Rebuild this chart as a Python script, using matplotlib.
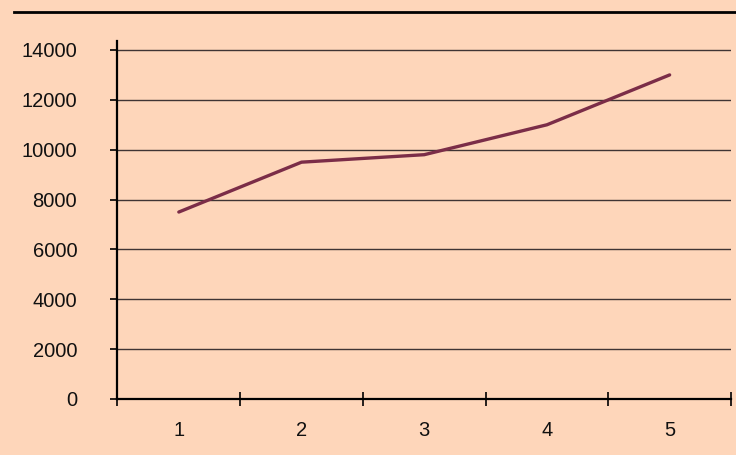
import matplotlib
matplotlib.use('Agg')
import matplotlib.pyplot as plt
from matplotlib.lines import Line2D

# data
categories = [1, 2, 3, 4, 5]
values = [7500, 9500, 9800, 11000, 13000]
yticks = [0, 2000, 4000, 6000, 8000, 10000, 12000, 14000]

bg = '#FED6BA'
line_col = '#7B2D48'

plt.rcParams['font.family'] = ['Liberation Sans', 'DejaVu Sans']

fig = plt.figure(figsize=(7.36, 4.55), dpi=100, facecolor=bg)
ax = fig.add_axes([0.1596, 0.1231, 0.9932 - 0.1596, 0.9099 - 0.1231])
ax.set_facecolor(bg)

ax.plot(categories, values, color=line_col, linewidth=2.4, solid_capstyle='round', zorder=3)

ax.set_xlim(0.5, 5.5)
ax.set_ylim(0, 14361)

# grid lines
ax.set_yticks(yticks)
ax.yaxis.grid(True, color='#3f3434', linewidth=1.0)
ax.set_axisbelow(True)

for s in ['top', 'right']:
    ax.spines[s].set_visible(False)
ax.spines['left'].set_linewidth(1.6)
ax.spines['bottom'].set_linewidth(1.6)
ax.spines['left'].set_color('black')
ax.spines['bottom'].set_color('black')

ax.tick_params(axis='y', direction='out', length=5, width=1.2, pad=24,
               labelsize=14.5, labelcolor='#111111')

# category labels in the middle, tick marks between categories
ax.set_xticks(categories)
ax.set_xticklabels([str(c) for c in categories])
ax.set_xticks([c - 0.5 for c in categories] + [5.5], minor=True)
ax.tick_params(axis='x', which='major', length=0, pad=16, labelsize=14.5, labelcolor='#111111')
ax.tick_params(axis='x', which='minor', direction='inout', length=10, width=1.2)

# thick rule across the top
fig.add_artist(Line2D([0.019, 1.0], [0.9747, 0.9747], color='black', linewidth=2.0,
                      transform=fig.transFigure))

plt.savefig('out.png', dpi=100, facecolor=bg)
plt.close()
